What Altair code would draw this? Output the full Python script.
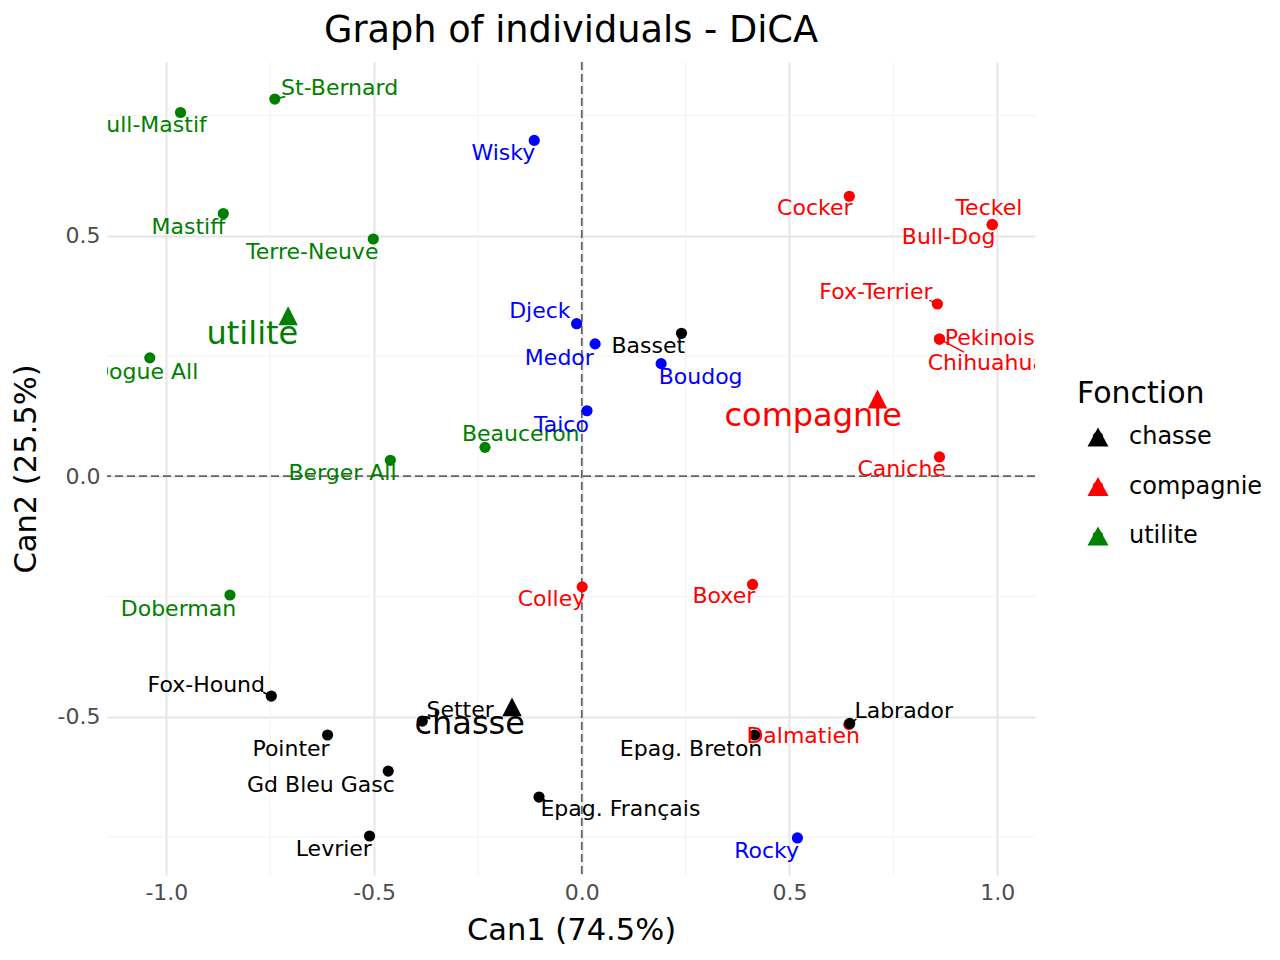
import altair as alt
import pandas as pd

FONT = "DejaVu Sans"

# ---- individuals: coordinates on the two canonical axes ----
names = [
    "Beauceron", "Basset", "Berger All", "Boxer", "Bull-Dog", "Bull-Mastif",
    "Caniche", "Chihuahua", "Cocker", "Colley", "Dalmatien", "Doberman",
    "Dogue All", "Epag. Breton", "Epag. Français", "Fox-Hound", "Fox-Terrier",
    "Gd Bleu Gasc", "Labrador", "Levrier", "Mastiff", "Pekinois", "Pointer",
    "Setter", "St-Bernard", "Teckel", "Terre-Neuve",
    "Medor", "Djeck", "Taico", "Boudog", "Wisky", "Rocky",
]
fonction = [
    "utilite", "chasse", "utilite", "compagnie", "compagnie", "utilite",
    "compagnie", "compagnie", "compagnie", "compagnie", "compagnie", "utilite",
    "utilite", "chasse", "chasse", "chasse", "compagnie",
    "chasse", "chasse", "chasse", "utilite", "compagnie", "chasse",
    "chasse", "utilite", "compagnie", "utilite",
    "sup", "sup", "sup", "sup", "sup", "sup",
]
can1 = [
    -0.233, 0.240, -0.461, 0.411, 0.988, -0.966,
    0.861, 0.861, 0.644, 0.001, 0.643, -0.847,
    -1.040, 0.416, -0.103, -0.7475, 0.856,
    -0.466, 0.645, -0.511, -0.863, 0.861, -0.612,
    -0.384, -0.739, 0.988, -0.502,
    0.032, -0.0125, 0.0125, 0.191, -0.1145, 0.519,
]
can2 = [
    0.060, 0.297, 0.033, -0.225, 0.523, 0.756,
    0.040, 0.285, 0.582, -0.230, -0.516, -0.247,
    0.246, -0.538, -0.667, -0.457, 0.358,
    -0.613, -0.514, -0.748, 0.546, 0.285, -0.538,
    -0.509, 0.784, 0.523, 0.493,
    0.275, 0.317, 0.136, 0.234, 0.698, -0.752,
]
# repelled label anchors (same units as the axes)
label_can1 = [
    -0.147, 0.160, -0.576, 0.342, 0.883, -1.042,
    0.770, 0.975, 0.561, -0.073, 0.533, -0.971,
    -1.051, 0.263, 0.093, -0.904, 0.708,
    -0.628, 0.775, -0.597, -0.947, 0.982, -0.700,
    -0.293, -0.583, 0.980, -0.649,
    -0.054, -0.101, -0.049, 0.286, -0.189, 0.445,
]
label_can2 = [
    0.091, 0.274, 0.009, -0.246, 0.500, 0.734,
    0.019, 0.238, 0.561, -0.252, -0.536, -0.272,
    0.219, -0.564, -0.689, -0.430, 0.385,
    -0.638, -0.484, -0.771, 0.522, 0.291, -0.563,
    -0.483, 0.811, 0.561, 0.470,
    0.249, 0.347, 0.110, 0.210, 0.674, -0.776,
]

# short connectors from a point to its repelled label
seg_names = ["Chihuahua", "St-Bernard", "Fox-Terrier", "Fox-Hound",
             "Terre-Neuve", "Epag. Français", "Labrador"]
seg_end_can1 = [0.920, -0.714, 0.837, -0.767, -0.514, -0.088, 0.661]
seg_end_can2 = [0.258, 0.789, 0.366, -0.449, 0.491, -0.674, -0.505]

# ---- group centroids ----
groups = ["chasse", "compagnie", "utilite"]
group_can1 = [-0.168, 0.712, -0.707]
group_can2 = [-0.480, 0.160, 0.333]
group_label_can1 = [-0.270, 0.557, -0.793]
group_label_can2 = [-0.514, 0.127, 0.297]

# ---- axes ----
x_ticks = [-1.0, -0.5, 0.0, 0.5, 1.0]
y_ticks = [-0.5, 0.0, 0.5]
x_minor = [-0.75, -0.25, 0.25, 0.75]
y_minor = [-0.75, -0.25, 0.25, 0.75]
x_domain = [-1.143, 1.091]
y_domain = [-0.829, 0.861]

all_groups = ["chasse", "compagnie", "utilite", "sup"]
all_colors = ["#000000", "#FF0000", "#008000", "#0000FF"]

ind = pd.DataFrame({"name": names, "fonction": fonction, "can1": can1,
                    "can2": can2, "lx": label_can1, "ly": label_can2})
pos = dict(zip(names, zip(can1, can2, fonction)))
seg = pd.DataFrame({
    "name": seg_names,
    "x": [pos[n][0] for n in seg_names],
    "y": [pos[n][1] for n in seg_names],
    "fonction": [pos[n][2] for n in seg_names],
    "x2": seg_end_can1, "y2": seg_end_can2,
})
cent = pd.DataFrame({"fonction": groups, "can1": group_can1, "can2": group_can2,
                     "lx": group_label_can1, "ly": group_label_can2})

xscale = alt.Scale(domain=x_domain, nice=False, zero=False)
yscale = alt.Scale(domain=y_domain, nice=False, zero=False)

minus_fix = "replace(datum.label, '\u2212', '-')"
xaxis = alt.Axis(values=x_ticks, format=".1f", labelExpr=minus_fix,
                 title="Can1 (74.5%)", grid=True, ticks=False, tickSize=0,
                 domain=False, labelPadding=7, titlePadding=12)
yaxis = alt.Axis(values=y_ticks, format=".1f", labelExpr=minus_fix,
                 title="Can2 (25.5%)", grid=True, ticks=False, tickSize=0,
                 domain=False, labelPadding=7, titlePadding=16)


def X(field):
    return alt.X(field, type="quantitative", scale=xscale, axis=xaxis)


def Y(field):
    return alt.Y(field, type="quantitative", scale=yscale, axis=yaxis)


def colour(legend=None, domain=all_groups, rng=all_colors):
    return alt.Color("fonction:N", scale=alt.Scale(domain=domain, range=rng),
                     legend=legend)


minor_v = alt.Chart(pd.DataFrame({"v": x_minor})).mark_rule(
    color="#f2f2f2", strokeWidth=1).encode(x=X("v"))
minor_h = alt.Chart(pd.DataFrame({"v": y_minor})).mark_rule(
    color="#f2f2f2", strokeWidth=1).encode(y=Y("v"))

zero_v = alt.Chart(pd.DataFrame({"v": [0.0]})).mark_rule(
    color="#666666", strokeWidth=1.8, strokeDash=[8, 4]).encode(x=X("v"))
zero_h = alt.Chart(pd.DataFrame({"v": [0.0]})).mark_rule(
    color="#666666", strokeWidth=1.8, strokeDash=[8, 4]).encode(y=Y("v"))

points = alt.Chart(ind).mark_circle(size=125, opacity=1).encode(
    x=X("can1"), y=Y("can2"), color=colour())

segments = alt.Chart(seg).mark_rule(strokeWidth=1.6).encode(
    x=X("x"), y=Y("y"), x2="x2", y2="y2", color=colour())

labels = alt.Chart(ind).mark_text(
    font=FONT, fontSize=22, align="center", baseline="middle", dy=1.5,
    clip=True
).encode(x=X("lx"), y=Y("ly"), text="name:N", color=colour())

tri_path = "M0,-1L1,0.95L-1,0.95Z"
legend_path = ("M0,-0.9L1,0.9L-1,0.9Z"
               "M-0.5,0A0.5,0.5 0 1,1 0.5,0A0.5,0.5 0 1,1 -0.5,0Z")

legend = alt.Legend(
    title="Fonction", orient="none", legendX=970, legendY=317,
    titleFont=FONT, titleFontSize=30, titleFontWeight="normal",
    titleColor="#000000", titlePadding=16,
    labelFont=FONT, labelFontSize=24, labelColor="#000000", labelOffset=19,
    symbolType=legend_path, symbolSize=441, symbolStrokeWidth=0,
    symbolOffset=9, rowPadding=25.5, padding=0, values=groups,
)

centroids = alt.Chart(cent).mark_point(
    shape=tri_path, size=376, filled=True, opacity=1, strokeWidth=0
).encode(x=X("can1"), y=Y("can2"),
         color=colour(legend, groups, all_colors[:3]))

centroid_labels = alt.Chart(cent).mark_text(
    font=FONT, fontSize=32, align="center", baseline="middle", dy=1,
    clip=True
).encode(x=X("lx"), y=Y("ly"), text="fonction:N",
         color=colour(None, groups, all_colors[:3]))

chart = alt.layer(
    minor_v, minor_h, zero_v, zero_h, points, segments, labels,
    centroids, centroid_labels,
).resolve_scale(color="independent").properties(
    width=928, height=813,
    padding={"left": 107, "top": 62, "right": 245, "bottom": 85},
    autosize=alt.AutoSizeParams(type="none"),
    background="white",
    title=alt.Title("Graph of individuals - DiCA", font=FONT, fontSize=36.7,
                    fontWeight="normal", color="#000000", anchor="middle",
                    offset=11),
).configure_view(stroke=None).configure_axis(
    labelFont=FONT, labelFontSize=22, labelColor="#4d4d4d",
    titleFont=FONT, titleFontSize=30.5, titleFontWeight="normal",
    titleColor="#000000", gridColor="#e6e6e6", gridWidth=2,
)

chart.save("out.html", embed_options={"renderer": "svg", "actions": False})
